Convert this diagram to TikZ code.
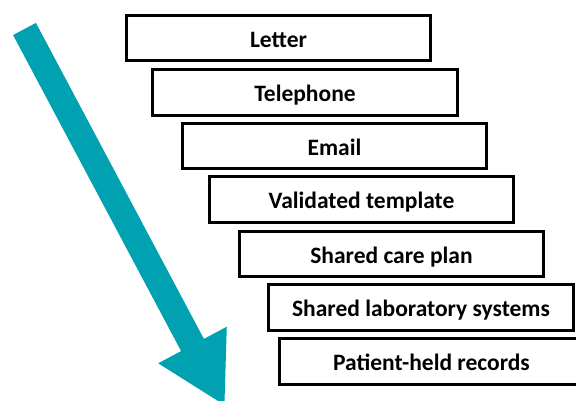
\documentclass[tikz,border=0pt]{standalone}
\usepackage{fontspec}
\setmainfont{Carlito}
\definecolor{teal1}{RGB}{0,161,177}
\begin{document}
\begin{tikzpicture}[x=1pt,y=-1pt,
  stepbox/.style={draw=black, fill=white, line width=2.6pt, minimum width=304.5pt, minimum height=45.5pt, inner sep=0pt,
    text height=18.4pt, text depth=0pt,
    font=\fontsize{23.5}{28}\selectfont\bfseries}]
\useasboundingbox (0,0) rectangle (576,401);
\clip (0,0) rectangle (576,401);
\fill[white] (0,0) rectangle (576,401);
% arrow
\fill[teal1] (13.1,35.1) -- (181.1,351.1) -- (158.2,363.3) -- (224.4,405) -- (226.8,326.7) -- (203.9,338.9) -- (35.9,22.9) -- cycle;
% boxes
\node[stepbox] (b1) at (278.5,38) {Letter};
\node[stepbox] (b2) at (305,92.5) {Telephone};
\node[stepbox] (b3) at (334.5,146) {Email};
\node[stepbox] (b4) at (361.5,199.5) {Validated template};
\node[stepbox] (b5) at (391.5,254) {Shared care plan};
\node[stepbox] (b6) at (421,307.5) {Shared laboratory systems};
\node[stepbox] (b7) at (431.5,361.5) {Patient-held records};
\end{tikzpicture}
\end{document}
